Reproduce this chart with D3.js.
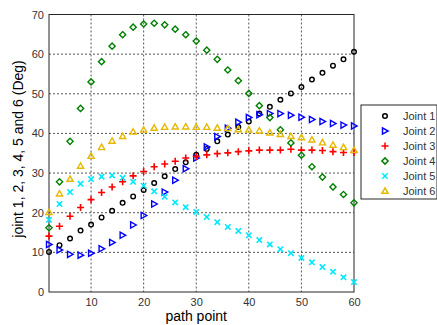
<!DOCTYPE html>
<html>
<head>
<meta charset="utf-8">
<script src="https://cdn.jsdelivr.net/npm/d3@7"></script>
<style>
  body { margin: 0; background: #fff; }
  svg { font-family: "Liberation Sans", Arial, sans-serif; }
  .tick text { fill: #333; font-size: 11px; }
</style>
</head>
<body>
<svg id="chart" width="437" height="325"></svg>
<script>
const pathPoints = [2, 4, 6, 8, 10, 12, 14, 16, 18, 20, 22, 24, 26, 28, 30,
  32, 34, 36, 38, 40, 42, 44, 46, 48, 50, 52, 54, 56, 58, 60];

const joint1 = [10.1, 11.8, 13.5, 15.5, 17.0, 18.8, 20.5, 22.5, 24.1, 25.7, 27.5, 29.2, 31.0, 32.7, 34.6,
  36.1, 38.0, 39.7, 41.6, 43.0, 45.0, 46.7, 48.5, 50.1, 51.7, 53.6, 55.3, 57.1, 58.7, 60.6];
const joint2 = [12.0, 10.6, 9.5, 9.3, 9.8, 10.9, 12.5, 14.3, 16.9, 19.3, 22.2, 25.2, 28.2, 31.1, 33.8,
  36.6, 39.2, 41.3, 42.8, 44.0, 44.7, 45.0, 45.0, 44.6, 44.1, 43.5, 43.0, 42.5, 42.1, 41.9];
const joint3 = [14.1, 16.6, 19.1, 21.3, 23.3, 25.1, 26.5, 27.8, 29.3, 30.4, 31.6, 32.3, 33.0, 33.8, 34.2,
  34.6, 34.9, 35.1, 35.4, 35.6, 35.8, 35.8, 35.8, 36.0, 35.8, 35.8, 35.7, 35.4, 35.2, 35.2];
const joint4 = [16.2, 27.8, 38.0, 46.3, 53.0, 58.1, 62.0, 64.9, 66.8, 67.6, 67.8, 67.4, 66.3, 64.9, 63.3,
  61.0, 58.7, 56.0, 53.3, 50.1, 47.0, 44.0, 40.9, 37.6, 34.5, 31.6, 29.0, 26.5, 24.6, 22.5];
const joint5 = [18.2, 22.2, 25.2, 27.3, 28.5, 29.1, 29.4, 28.8, 27.8, 26.8, 25.4, 24.0, 22.6, 21.4, 20.2,
  18.9, 17.6, 16.4, 15.4, 14.3, 13.1, 12.0, 10.8, 9.8, 8.6, 7.5, 6.3, 5.1, 3.7, 2.5];
const joint6 = [20.1, 24.8, 28.5, 31.8, 34.3, 36.5, 38.1, 39.3, 40.4, 40.9, 41.4, 41.6, 41.7, 41.7, 41.6,
  41.6, 41.4, 41.3, 41.0, 40.9, 40.7, 40.2, 39.8, 39.3, 39.0, 38.4, 37.7, 37.1, 36.5, 35.8];

const seriesNames = ["Joint 1", "Joint 2", "Joint 3", "Joint 4", "Joint 5", "Joint 6"];
const xTicks = [10, 20, 30, 40, 50, 60];
const yTicks = [0, 10, 20, 30, 40, 50, 60, 70];

const series = [
  { name: seriesNames[0], values: joint1, color: "#000000", marker: "circle" },
  { name: seriesNames[1], values: joint2, color: "#0000ff", marker: "triRight" },
  { name: seriesNames[2], values: joint3, color: "#ff0000", marker: "plus" },
  { name: seriesNames[3], values: joint4, color: "#008000", marker: "diamond" },
  { name: seriesNames[4], values: joint5, color: "#00e8ff", marker: "cross" },
  { name: seriesNames[5], values: joint6, color: "#e6b800", marker: "triUp" }
];

const svg = d3.select("#chart"),
  margin = { top: 14.5, right: 83, bottom: 33, left: 49 },
  width = +svg.attr("width") - margin.left - margin.right,
  height = +svg.attr("height") - margin.top - margin.bottom,
  g = svg.append("g")
    .attr("transform", "translate(" + margin.left + "," + margin.top + ")");

const x = d3.scaleLinear().domain([2, 60]).range([0, width]),
  y = d3.scaleLinear().domain([0, 70]).range([height, 0]);

// marker shapes, drawn around (0,0)
function markerPath(type) {
  switch (type) {
    case "circle":
      return "M2.3,0A2.3,2.3 0 1,1 -2.3,0A2.3,2.3 0 1,1 2.3,0Z";
    case "triRight":
      return "M-2.5,-3.1L3.1,0L-2.5,3.1Z";
    case "triUp":
      return "M0,-3.1L3.1,2.3L-3.1,2.3Z";
    case "diamond":
      return "M0,-3.1L3.1,0L0,3.1L-3.1,0Z";
    case "plus":
      return "M-3.5,0L3.5,0M0,-3.5L0,3.5";
    case "cross":
      return "M-2.7,-2.7L2.7,2.7M-2.7,2.7L2.7,-2.7";
  }
}

// grid
g.append("g")
  .selectAll("line.gx")
  .data(xTicks.filter((t) => t < 60))
  .enter()
  .append("line")
  .attr("x1", (d) => x(d)).attr("x2", (d) => x(d))
  .attr("y1", 0).attr("y2", height)
  .style("stroke", "#555").style("stroke-dasharray", "2,2");

g.append("g")
  .selectAll("line.gy")
  .data(yTicks.filter((t) => t > 0 && t < 70))
  .enter()
  .append("line")
  .attr("y1", (d) => y(d)).attr("y2", (d) => y(d))
  .attr("x1", 0).attr("x2", width)
  .style("stroke", "#555").style("stroke-dasharray", "2,2");

// axes
const xAxis = g.append("g")
  .attr("transform", "translate(0," + height + ")")
  .call(d3.axisBottom(x).tickValues(xTicks).tickSize(0).tickPadding(6));
const yAxis = g.append("g")
  .call(d3.axisLeft(y).tickValues(yTicks).tickSize(0).tickPadding(5));
[xAxis, yAxis].forEach((a) => {
  a.select(".domain").remove();
  a.selectAll("text").attr("font-family", "Liberation Sans, Arial, sans-serif");
});

g.append("rect")
  .attr("width", width).attr("height", height)
  .style("fill", "none").style("stroke", "#262626").style("stroke-width", 1);

// data markers
series.forEach((s) => {
  const lines = s.marker === "plus" || s.marker === "cross";
  g.append("g")
    .selectAll("path")
    .data(s.values)
    .enter()
    .append("path")
    .attr("transform", (d, i) => `translate(${x(pathPoints[i])},${y(d)})`)
    .attr("d", markerPath(s.marker))
    .style("fill", "none")
    .style("stroke", s.color)
    .style("stroke-width", lines ? 1.6 : 1.4);
});

// axis labels
svg.append("text")
  .attr("x", margin.left + x(30))
  .attr("y", 321)
  .attr("text-anchor", "middle")
  .style("font-size", "14px")
  .text("path point");

svg.append("text")
  .attr("transform", `translate(23,149) rotate(-90)`)
  .attr("text-anchor", "middle")
  .style("font-size", "14px")
  .text("joint 1, 2, 3, 4, 5 and 6 (Deg)");

// legend
const lg = svg.append("g").attr("transform", "translate(361,105)");
lg.append("rect")
  .attr("width", 76).attr("height", 94)
  .style("fill", "#fff").style("stroke", "#262626");
const row = lg.selectAll("g.row")
  .data(series)
  .enter()
  .append("g")
  .attr("transform", (d, i) => `translate(0,${11 + i * 15})`);
row.append("path")
  .attr("transform", "translate(24,0)")
  .attr("d", (d) => markerPath(d.marker))
  .style("fill", "none")
  .style("stroke", (d) => d.color)
  .style("stroke-width", 1.5);
row.append("text")
  .attr("x", 42)
  .attr("y", 4)
  .style("font-size", "11px")
  .style("fill", "#333")
  .text((d) => d.name);
</script>
</body>
</html>
